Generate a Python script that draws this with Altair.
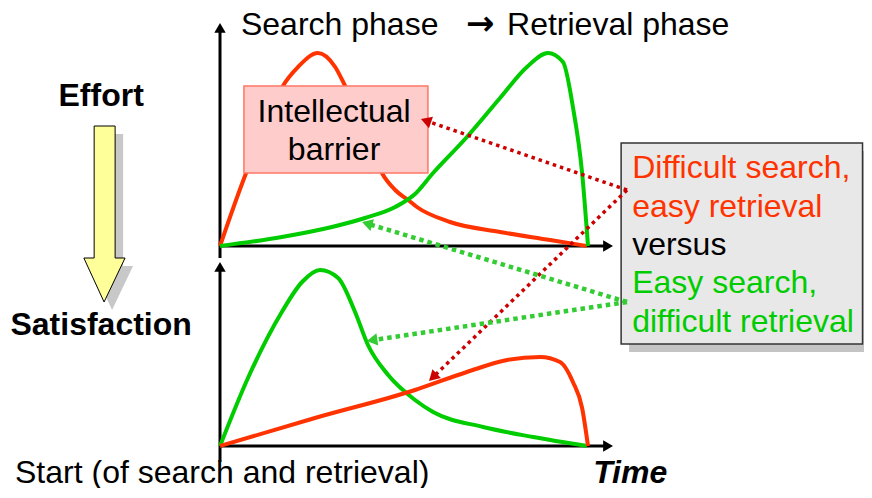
import math
import altair as alt
import pandas as pd

# ---------------- curve readings (time 0..100, level per panel) ----------------
EFF_RED_T = [0, 7.1, 12.0, 17.1, 21.2, 26.6, 31.3, 34.0, 39.4, 44.0, 47.6, 51.1, 53.5, 62.5, 76.1, 89.7, 99.7]
EFF_RED_L = [0, 36.5, 58, 80, 89.5, 96.5, 89.5, 80, 58, 36.5, 28, 23, 19.5, 12, 7, 3, 0]
EFF_GREEN_T = [0, 16.8, 30.4, 39.4, 47.6, 53, 57.9, 67.1, 76.1, 83.4, 89.1, 93.2, 95.9, 98.4, 100]
EFF_GREEN_L = [0, 4.5, 9.5, 14, 19.5, 26, 36.5, 54.5, 74, 89.5, 96.5, 92, 69.5, 36.5, 0]
SAT_GREEN_T = [0, 7.6, 16.8, 22.3, 27.2, 32.1, 36.7, 40.2, 45.7, 53, 57.9, 71.5, 85.1, 99.7]
SAT_GREEN_L = [0, 34, 67, 82, 88, 84, 67, 50.5, 35.5, 23, 17, 9.5, 4.5, 0]
SAT_RED_T = [0, 25.8, 53, 67.1, 78, 87, 92.4, 95.9, 98.4, 100]
SAT_RED_L = [0, 14, 28, 37, 43, 44.5, 42, 32, 19, 0]

PANEL_OFFSET = {"Effort": 100, "Satisfaction": 0}

RED = "#ff3300"
GREEN = "#00cc00"
DOT_RED = "#cc0000"
DOT_GREEN = "#33cc33"
FONT = "Liberation Sans"
FS = 32

# ---------------- texts ----------------
TITLE_PARTS = ["Search phase", "\u2192", "Retrieval phase"]
SIDE_LABELS = ["Effort", "Satisfaction"]
BARRIER_LINES = ["Intellectual", "barrier"]
LEGEND_LINES = ["Difficult search,", "easy retrieval", "versus", "Easy search,", "difficult retrieval"]
LEGEND_COLORS = [RED, RED, "black", GREEN, GREEN]
START_LABEL = "Start (of search and retrieval)"
TIME_LABEL = "Time"

# ---------------- canvas scale (diagram units) ----------------
W, H = 856, 480
X_DOM = [-57.61, 175.0]
Y_DOM = [-21, 219]
PX_T = W / (X_DOM[1] - X_DOM[0])
PX_L = H / (Y_DOM[1] - Y_DOM[0])

xs = alt.Scale(domain=X_DOM, nice=False, zero=False)
ys = alt.Scale(domain=Y_DOM, nice=False, zero=False)


def X(f="t"):
    return alt.X(f, type="quantitative", scale=xs, axis=None)


def Y(f="L"):
    return alt.Y(f, type="quantitative", scale=ys, axis=None)


def head(tip, frm, size):
    dx = (tip[0] - frm[0]) * PX_T
    dy = -(tip[1] - frm[1]) * PX_L
    n = math.hypot(dx, dy)
    h = 0.433 * math.sqrt(size)
    ang = math.degrees(math.atan2(dy, dx)) % 360
    return tip[0] - h * dx / n / PX_T, tip[1] + h * dy / n / PX_L, ang


# ---------------- curves ----------------
rows = []
for name, panel, ts, ls, col in [
    ("eff_red", "Effort", EFF_RED_T, EFF_RED_L, "red"),
    ("eff_green", "Effort", EFF_GREEN_T, EFF_GREEN_L, "green"),
    ("sat_green", "Satisfaction", SAT_GREEN_T, SAT_GREEN_L, "green"),
    ("sat_red", "Satisfaction", SAT_RED_T, SAT_RED_L, "red"),
]:
    for i, (t, l) in enumerate(zip(ts, ls)):
        rows.append({"curve": name, "t": t, "L": l + PANEL_OFFSET[panel], "i": i, "col": col})
curves = pd.DataFrame(rows)

curve_layer = alt.Chart(curves).mark_line(strokeWidth=4, interpolate="monotone").encode(
    x=X(), y=Y(),
    color=alt.Color("col:N", scale=alt.Scale(domain=["red", "green"], range=[RED, GREEN]), legend=None),
    detail="curve:N", order="i:Q",
)

# ---------------- axes ----------------
AX_SIZE = 130
axis_tips = [  # (tip, from)
    ((106.8, 100), (0, 100)),
    ((106.8, 0), (0, 0)),
    ((0, 211.5), (0, 94)),
    ((0, 92), (0, -8)),
]
ax_rows, axh_rows = [], []
for tip, frm in axis_tips:
    cx, cy, ang = head(tip, frm, AX_SIZE)
    ax_rows.append({"t": frm[0], "L": frm[1], "t2": cx, "L2": cy})
    axh_rows.append({"t": cx, "L": cy, "a": ang})
axes = alt.Chart(pd.DataFrame(ax_rows)).mark_rule(strokeWidth=3, color="black").encode(
    x=X(), y=Y(), x2="t2:Q", y2="L2:Q")
axes_heads = alt.Chart(pd.DataFrame(axh_rows)).mark_point(
    shape="triangle-right", filled=True, color="black", size=AX_SIZE, opacity=1).encode(
    x=X(), y=Y(), angle=alt.Angle("a:Q", scale=None))

# ---------------- yellow arrow (Effort -> Satisfaction) ----------------
SH_T, SH_L = 2.17, -4
SHAFT = {"t": -34.2, "t2": -28.5, "L": 160, "L2": 94}
HEAD_T = [-37.0, -25.8, -31.5]
HEAD_L = [94, 72]
OUTLINE_T = [-34.2, -28.5, -28.5, -25.8, -31.5, -37.0, -34.2, -34.2]
OUTLINE_L = [160, 160, 94, 94, 72, 94, 94, 160]


def arrow_fill(dt, dl, color):
    shaft = alt.Chart(pd.DataFrame([{"t": SHAFT["t"] + dt, "t2": SHAFT["t2"] + dt,
                                     "L": SHAFT["L"] + dl, "L2": SHAFT["L2"] + dl}])).mark_rect(
        color=color).encode(x=X(), x2="t2:Q", y=Y(), y2="L2:Q")
    hd = pd.DataFrame({"L": [HEAD_L[0] + dl, HEAD_L[1] + dl],
                       "a": [HEAD_T[0] + dt, HEAD_T[2] + dt],
                       "b": [HEAD_T[1] + dt, HEAD_T[2] + dt]})
    headm = alt.Chart(hd).mark_area(orient="horizontal", color=color, opacity=1).encode(
        y=Y(), x=X("a"), x2="b:Q")
    return shaft + headm


outline = alt.Chart(pd.DataFrame({"t": OUTLINE_T, "L": OUTLINE_L, "i": range(len(OUTLINE_T))})).mark_line(
    color="black", strokeWidth=1).encode(x=X(), y=Y(), order="i:Q")

# ---------------- boxes ----------------
GRAY_BOX = {"t": 109.0, "t2": 174.6, "L": 151.5, "L2": 51}
PINK_BOX = {"t": 6.5, "t2": 56.5, "L": 180, "L2": 136.5}

gray_shadow = alt.Chart(pd.DataFrame([{"t": GRAY_BOX["t"] + SH_T, "t2": GRAY_BOX["t2"] + SH_T,
                                       "L": GRAY_BOX["L"] + SH_L, "L2": GRAY_BOX["L2"] + SH_L}])).mark_rect(
    color="#c4c4c4").encode(x=X(), x2="t2:Q", y=Y(), y2="L2:Q")
gray_box = alt.Chart(pd.DataFrame([GRAY_BOX])).mark_rect(
    fill="#e8e8e8", stroke="#333333", strokeWidth=1.5).encode(x=X(), x2="t2:Q", y=Y(), y2="L2:Q")
pink_box = alt.Chart(pd.DataFrame([PINK_BOX])).mark_rect(
    fill="#ffcccc", stroke="#ff7766", strokeWidth=1.5).encode(x=X(), x2="t2:Q", y=Y(), y2="L2:Q")


# ---------------- texts ----------------
def text_layer(df, font=FONT, **kw):
    return alt.Chart(df).mark_text(font=font, baseline="alphabetic", **kw).encode(
        x=X(), y=Y(), text="s:N", color=alt.Color("c:N", scale=None))


TITLE_L = 205.5
title = text_layer(pd.DataFrame({"t": [5.7, 78.0], "L": [TITLE_L, TITLE_L],
                                 "s": [TITLE_PARTS[0], TITLE_PARTS[2]], "c": ["black"] * 2}),
                   align="left", fontSize=FS)
title_arrow = text_layer(pd.DataFrame([{"t": 70.7, "L": TITLE_L, "s": TITLE_PARTS[1], "c": "black"}]),
                         font="DejaVu Sans", align="center", fontSize=34, fontWeight="bold")
side = text_layer(pd.DataFrame({"t": [-32.3, -32.3], "L": [170, 55.5], "s": SIDE_LABELS, "c": ["black"] * 2}),
                  align="center", fontSize=FS, fontWeight="bold")
barrier = text_layer(pd.DataFrame({"t": [31, 31], "L": [162, 143], "s": BARRIER_LINES, "c": ["black"] * 2}),
                     align="center", fontSize=FS)
legend = text_layer(pd.DataFrame({"t": [112] * 5, "L": [134, 114.5, 95.5, 76.5, 57],
                                  "s": LEGEND_LINES, "c": LEGEND_COLORS}), align="left", fontSize=FS)
BOTTOM_L = -18.5
start = text_layer(pd.DataFrame([{"t": -55.7, "L": BOTTOM_L, "s": START_LABEL, "c": "black"}]),
                   align="left", fontSize=FS)
time_lbl = text_layer(pd.DataFrame([{"t": 101.4, "L": BOTTOM_L, "s": TIME_LABEL, "c": "black"}]),
                      align="left", fontSize=FS, fontWeight="bold", fontStyle="italic")

# ---------------- dotted pointer arrows ----------------
PTR_SIZE = 150
pointers = [  # (from, tip, color)
    ((110.6, 128), (54.6, 163.5), DOT_RED),
    ((110.6, 128), (56.8, 32.5), DOT_RED),
    ((110.6, 72), (38.6, 112), DOT_GREEN),
    ((110.6, 72), (39.9, 52.5), DOT_GREEN),
]
pr, ph = [], []
for frm, tip, col in pointers:
    cx, cy, ang = head(tip, frm, PTR_SIZE)
    pr.append({"t": frm[0], "L": frm[1], "t2": cx, "L2": cy, "c": col})
    ph.append({"t": cx, "L": cy, "a": ang, "c": col})
prd = pd.DataFrame(pr)
red_dots = alt.Chart(prd[prd.c == DOT_RED]).mark_rule(
    strokeWidth=3.5, strokeDash=[3.5, 4], color=DOT_RED).encode(x=X(), y=Y(), x2="t2:Q", y2="L2:Q")
green_dots = alt.Chart(prd[prd.c == DOT_GREEN]).mark_rule(
    strokeWidth=4.5, strokeDash=[4.5, 4], color=DOT_GREEN).encode(x=X(), y=Y(), x2="t2:Q", y2="L2:Q")
ptr_heads = alt.Chart(pd.DataFrame(ph)).mark_point(
    shape="triangle-right", filled=True, size=PTR_SIZE, opacity=1).encode(
    x=X(), y=Y(), angle=alt.Angle("a:Q", scale=None), color=alt.Color("c:N", scale=None))

chart = alt.layer(
    arrow_fill(SH_T, SH_L, "#c8c8c8"),
    arrow_fill(0, 0, "#ffff99"),
    outline,
    gray_shadow, gray_box,
    axes, axes_heads,
    curve_layer,
    pink_box,
    title, title_arrow, side, barrier, legend, start, time_lbl,
    red_dots, green_dots, ptr_heads,
).properties(width=W, height=H, padding=0, autosize=alt.AutoSizeParams(type="none")).configure_view(stroke=None)

chart.save("out.html", embed_options={"renderer": "svg", "actions": False})
